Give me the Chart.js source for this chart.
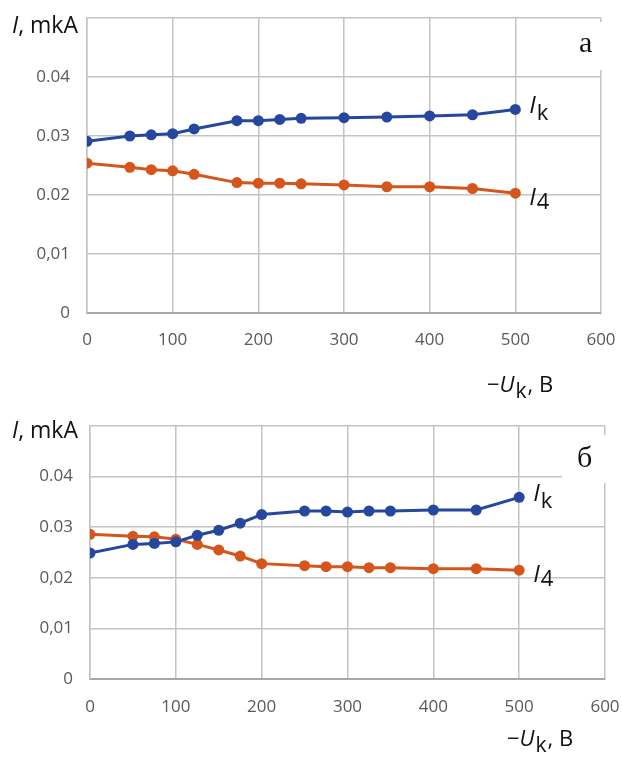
<!DOCTYPE html>
<html>
<head>
<meta charset="utf-8">
<script src="https://cdn.jsdelivr.net/npm/chart.js@4.4.1/dist/chart.umd.min.js"></script>
<style>
  html, body { margin: 0; padding: 0; background: #fff; }
  .wrap { position: absolute; left: 0; width: 622px; }
  #wrapA { top: 0; height: 400px; }
  #wrapB { top: 400px; height: 360px; }
</style>
</head>
<body>
<div class="wrap" id="wrapA"><canvas id="chartA"></canvas></div>
<div class="wrap" id="wrapB"><canvas id="chartB"></canvas></div>
<script>
// data, I in mkA, -Uk in B

// panel a
var voltsA = [0, 50, 75, 100, 125, 175, 200, 225, 250, 300, 350, 400, 450, 500];
var ikA = [0.0291, 0.0300, 0.0302, 0.0304, 0.0312, 0.0326, 0.0326, 0.0328, 0.0330, 0.0331, 0.0332, 0.0334, 0.0336, 0.0345];
var i4A = [0.0254, 0.0247, 0.0243, 0.0241, 0.0235, 0.0221, 0.0220, 0.0220, 0.0219, 0.0217, 0.0214, 0.0214, 0.0211, 0.0203];

// panel б
var voltsB = [0, 50, 75, 100, 125, 150, 175, 200, 250, 275, 300, 325, 350, 400, 450, 500];
var ikB = [0.0249, 0.0266, 0.0268, 0.0271, 0.0284, 0.0294, 0.0308, 0.0325, 0.0332, 0.0332, 0.0330, 0.0332, 0.0332, 0.0334, 0.0334, 0.0359];
var i4B = [0.0286, 0.0282, 0.0281, 0.0276, 0.0266, 0.0255, 0.0243, 0.0228, 0.0224, 0.0222, 0.0222, 0.0220, 0.0220, 0.0218, 0.0218, 0.0215];

// tick labels
var xTickLabels = ['0', '100', '200', '300', '400', '500', '600'];
var yTickLabelsA = ['0', '0,01', '0.02', '0.03', '0.04', ''];
var yTickLabelsB = ['0', '0,01', '0,02', '0.03', '0.04', ''];

var BLUE = '#25479d';
var ORANGE = '#d5561d';
var GRID = '#c4c4c4';
var FONT = '"Open Sans", "Liberation Sans", sans-serif';

// draws a row of text pieces with different fonts
function drawParts(ctx, x, y, parts, alignRight) {
  var total = 0;
  parts.forEach(function(p) { ctx.font = p.font; total += ctx.measureText(p.t).width + (p.gap || 0); });
  if (alignRight) x -= total;
  parts.forEach(function(p) {
    ctx.font = p.font;
    ctx.fillText(p.t, x, y + (p.dy || 0));
    x += ctx.measureText(p.t).width + (p.gap || 0);
  });
}

var annot = {
  id: 'annot',
  afterDraw: function(chart, args, o) {
    var ctx = chart.ctx;
    ctx.save();
    ctx.textBaseline = 'alphabetic';
    ctx.textAlign = 'left';

    // white patch with the panel letter
    ctx.fillStyle = '#fff';
    ctx.fillRect(o.box[0], o.box[1], o.box[2], o.box[3]);
    ctx.fillStyle = '#111';
    ctx.font = '30px "Liberation Serif", "DejaVu Serif", serif';
    ctx.fillText(o.letter, o.letterPos[0], o.letterPos[1]);

    // axis titles
    drawParts(ctx, o.yTitle[0], o.yTitle[1], [
      { t: 'I', font: 'italic 23px ' + FONT },
      { t: ', mkA', font: '23px ' + FONT }
    ], true);
    drawParts(ctx, o.xTitle[0], o.xTitle[1], [
      { t: '\u2212', font: '22px ' + FONT },
      { t: 'U', font: 'italic 22px ' + FONT, gap: 1 },
      { t: 'k', font: '21px ' + FONT, dy: 6, gap: 1 },
      { t: ', B', font: '22px ' + FONT }
    ]);

    // series names next to the last points
    var names = [['k', 4, 11], ['4', 12, 16]];
    chart.data.datasets.forEach(function(ds, i) {
      var pts = chart.getDatasetMeta(i).data;
      var p = pts[pts.length - 1];
      drawParts(ctx, p.x + 14, p.y + names[i][1], [
        { t: 'I', font: 'italic 24px ' + FONT, gap: 1 },
        { t: names[i][0], font: '22px ' + FONT, dy: names[i][2] - names[i][1] }
      ]);
    });
    ctx.restore();
  }
};

function makeChart(id, volts, ik, i4, yLabels, geo) {
  var line = function(vals, color) {
    return {
      data: volts.map(function(v, i) { return { x: v, y: vals[i] }; }),
      borderColor: color,
      backgroundColor: color,
      borderWidth: 3,
      pointRadius: 5.5,
      pointHoverRadius: 5.5,
      pointBorderWidth: 0,
      tension: 0
    };
  };
  return new Chart(document.getElementById(id), {
    type: 'line',
    data: { datasets: [line(ik, BLUE), line(i4, ORANGE)] },
    options: {
      responsive: true,
      maintainAspectRatio: false,
      animation: false,
      layout: { padding: { top: geo.top, right: geo.right, left: 0, bottom: 0 } },
      plugins: {
        legend: { display: false },
        tooltip: { enabled: false },
        annot: geo.annot
      },
      scales: {
        x: {
          type: 'linear',
          min: 0, max: 600,
          ticks: {
            stepSize: 100,
            padding: 0,
            color: '#595959',
            font: { family: FONT, size: 17 },
            maxRotation: 0,
            callback: function(v, i) { return xTickLabels[i]; }
          },
          grid: { color: GRID, lineWidth: 1.5, drawTicks: true, tickLength: geo.xPad, tickColor: 'rgba(0,0,0,0)' },
          border: { color: '#a8a8a8', width: 2 },
          afterFit: function(s) { s.height = geo.xH; }
        },
        y: {
          min: 0, max: 0.05,
          ticks: {
            stepSize: 0.01,
            padding: 0,
            color: '#595959',
            font: { family: FONT, size: 17 },
            callback: function(v, i) { return yLabels[i]; }
          },
          grid: { color: GRID, lineWidth: 1.5, drawTicks: true, tickLength: 17, tickColor: 'rgba(0,0,0,0)' },
          border: { color: GRID, width: 1.5 },
          afterFit: function(s) { s.width = geo.yW; }
        }
      }
    },
    plugins: [annot]
  });
}

makeChart('chartA', voltsA, ikA, i4A, yTickLabelsA, {
  top: 18, right: 21, xH: 87, yW: 87, xPad: 17,
  annot: {
    letter: 'a', letterPos: [579, 52], box: [554, 22, 58, 48],
    yTitle: [78, 33], xTitle: [487, 392]
  }
});

makeChart('chartB', voltsB, ikB, i4B, yTickLabelsB, {
  top: 26, right: 17, xH: 81, yW: 90, xPad: 18,
  annot: {
    letter: '\u0431', letterPos: [577, 67], box: [562, 35, 54, 48],
    yTitle: [78, 38], xTitle: [507, 346]
  }
});
</script>
</body>
</html>
